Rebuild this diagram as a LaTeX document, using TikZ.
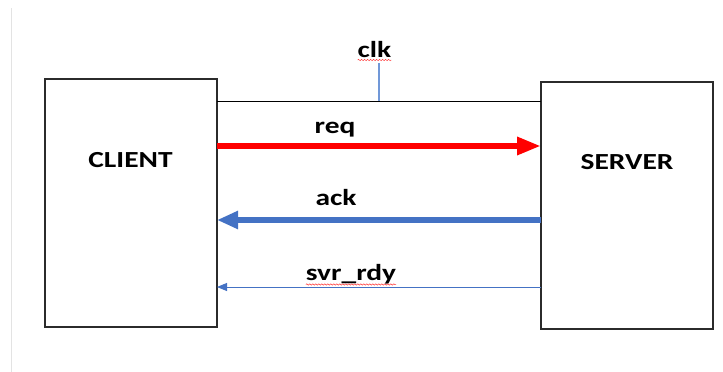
\documentclass[tikz,border=0pt]{standalone}
\usepackage{fontspec}
\setmainfont{Carlito}
\newfontfamily\lblfont[FakeStretch=1.28]{Carlito}
\usetikzlibrary{arrows.meta,decorations.pathmorphing}
\definecolor{ablue}{HTML}{4472C4}
\definecolor{lblue}{HTML}{7198D8}
\definecolor{edgegray}{HTML}{2B2B2B}
\begin{document}
\begin{tikzpicture}[x=1pt,y=-1pt,
  box/.style={draw=edgegray,line width=1.3pt,inner sep=0pt,outer sep=0pt,fill=white},
  lbl/.style={font=\lblfont\bfseries\fontsize{23}{27}\selectfont,anchor=base,inner sep=0pt,outer sep=0pt},
  bus/.style={draw=black,line width=1pt},
  clkline/.style={draw=lblue,line width=1.1pt},
  reqarrow/.style={draw=red,line width=6pt,-{Triangle[length=24pt,width=17pt,fill=red]}},
  ackarrow/.style={draw=ablue,line width=6pt,-{Triangle[length=21pt,width=17pt,fill=ablue]}},
  rdyarrow/.style={draw=ablue,line width=0.9pt,-{Triangle[length=10pt,width=8pt,fill=ablue]}},
  wavy/.style={draw=red!80,line width=0.5pt,decorate,decoration={snake,segment length=3pt,amplitude=0.7pt}}
]
\useasboundingbox (0,0) rectangle (723,372);
\draw[gray!22,line width=1pt] (11,8) -- (11,372);

\node[box,minimum width=172pt,minimum height=248pt] (client) at (131,203) {};
\node[box,minimum width=172pt,minimum height=247pt] (server) at (627,205.5) {};

\node[lbl] (clientlbl) at (130.5,167) {CLIENT};
\node[lbl] (serverlbl) at (627,169) {SERVER};
\node[lbl] (clk) at (374.5,57) {clk};
\node[lbl] (req) at (335,133) {req};
\node[lbl] (ack) at (336,205) {ack};
\node[lbl] (svr) at (351,280) {svr\_rdy};

\coordinate (busy) at (379,101);
\coordinate (clktop) at (379,63);
\coordinate (reqy) at (0,146);
\coordinate (acky) at (0,220);
\coordinate (rdyy) at (0,287);

\draw[bus] (client.east |- busy) -- (server.west |- busy);
\draw[clkline] (clktop) -- (busy);

\draw[reqarrow] (client.east |- reqy) -- (server.west |- reqy);
\draw[ackarrow] (server.west |- acky) -- (client.east |- acky);
\draw[rdyarrow] (server.west |- rdyy) -- (client.east |- rdyy);

\draw[wavy] ([yshift=-3pt]clk.base west) -- ([yshift=-3pt]clk.base east);
\draw[wavy] ([yshift=-4.5pt]svr.base west) -- ([yshift=-4.5pt]svr.base east);
\end{tikzpicture}
\end{document}
